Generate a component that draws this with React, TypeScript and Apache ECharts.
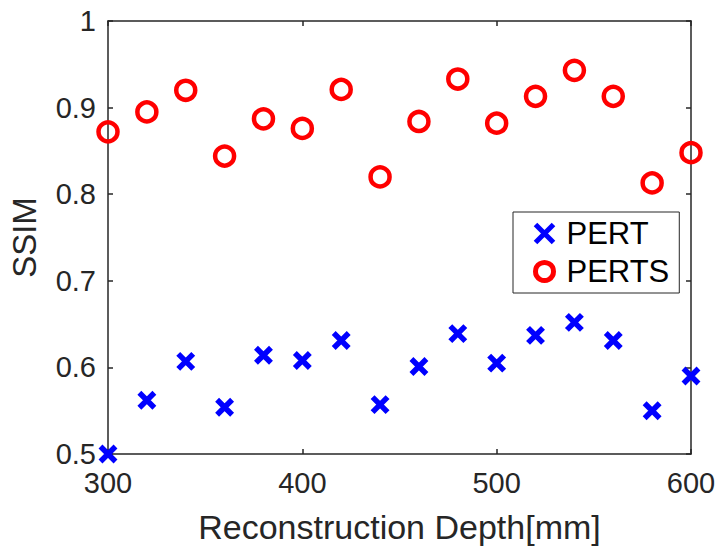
import React, { useEffect, useRef } from "react";
import * as echarts from "echarts";

const depths = [300, 320, 340, 360, 380, 400, 420, 440, 460, 480, 500, 520, 540, 560, 580, 600];
const pert = [0.5, 0.562, 0.607, 0.554, 0.614, 0.608, 0.631, 0.557, 0.601, 0.639, 0.605, 0.637, 0.652, 0.631, 0.55, 0.59];
const perts = [0.872, 0.895, 0.92, 0.844, 0.887, 0.876, 0.921, 0.82, 0.884, 0.933, 0.882, 0.913, 0.943, 0.913, 0.813, 0.848];

const FONT = "'Liberation Sans', Arial, Helvetica, sans-serif";
const AX = "#262626";
const CROSS = "path://M0,0L10,10M10,0L0,10";

export default function App() {
  const ref = useRef<HTMLDivElement>(null);
  useEffect(() => {
    if (!ref.current) return;
    const chart = echarts.init(ref.current, undefined, { renderer: "svg" });
    const axisLine = { show: true, onZero: false, lineStyle: { color: AX, width: 1.5 } };
    const axisTick = { show: true, inside: true, length: 5, lineStyle: { color: AX, width: 1.5 } };
    chart.setOption({
      animation: false,
      backgroundColor: "#ffffff",
      grid: { left: 107, top: 21, right: 30, bottom: 98 },
      legend: {
        orient: "vertical",
        left: 513,
        top: 212,
        padding: [6, 10, 6, 20],
        itemGap: 7,
        itemWidth: 18,
        itemHeight: 18,
        borderColor: AX,
        borderWidth: 1,
        backgroundColor: "#ffffff",
        itemStyle: { borderWidth: 5 },
        textStyle: { fontFamily: FONT, fontSize: 31, color: "#000", lineHeight: 30, padding: [0, 0, 0, 8] },
        data: ["PERT", "PERTS"],
      },
      xAxis: [
        {
          type: "value",
          min: 300,
          max: 600,
          interval: 100,
          name: "Reconstruction Depth[mm]",
          nameLocation: "middle",
          nameGap: 56,
          nameTextStyle: { fontFamily: FONT, fontSize: 34, color: AX },
          axisLine,
          axisTick,
          splitLine: { show: false },
          axisLabel: { fontFamily: FONT, fontSize: 29, color: AX, margin: 14 },
        },
        {
          type: "value",
          position: "top",
          min: 300,
          max: 600,
          interval: 100,
          axisLine,
          axisTick,
          splitLine: { show: false },
          axisLabel: { show: false },
        },
      ],
      yAxis: [
        {
          type: "value",
          min: 0.5,
          max: 1,
          interval: 0.1,
          name: "SSIM",
          nameLocation: "middle",
          nameGap: 67,
          nameTextStyle: { fontFamily: FONT, fontSize: 33, color: AX },
          axisLine,
          axisTick,
          splitLine: { show: false },
          axisLabel: { fontFamily: FONT, fontSize: 29, color: AX, margin: 12 },
        },
        {
          type: "value",
          position: "right",
          min: 0.5,
          max: 1,
          interval: 0.1,
          axisLine,
          axisTick,
          splitLine: { show: false },
          axisLabel: { show: false },
        },
      ],
      series: [
        {
          name: "PERT",
          type: "scatter",
          clip: false,
          symbol: CROSS,
          symbolSize: 15,
          itemStyle: { color: "rgba(0,0,0,0)", borderColor: "#0000ff", borderWidth: 5.5, opacity: 1 },
          data: depths.map((d, i) => [d, pert[i]]),
          z: 5,
        },
        {
          name: "PERTS",
          type: "scatter",
          clip: false,
          symbol: "circle",
          symbolSize: 19,
          itemStyle: { color: "rgba(0,0,0,0)", borderColor: "#ff0000", borderWidth: 4.5, opacity: 1 },
          data: depths.map((d, i) => [d, perts[i]]),
          z: 5,
        },
      ],
    });
    return () => chart.dispose();
  }, []);
  return <div ref={ref} style={{ width: 721, height: 552, position: "absolute", left: 0, top: 0 }} />;
}
